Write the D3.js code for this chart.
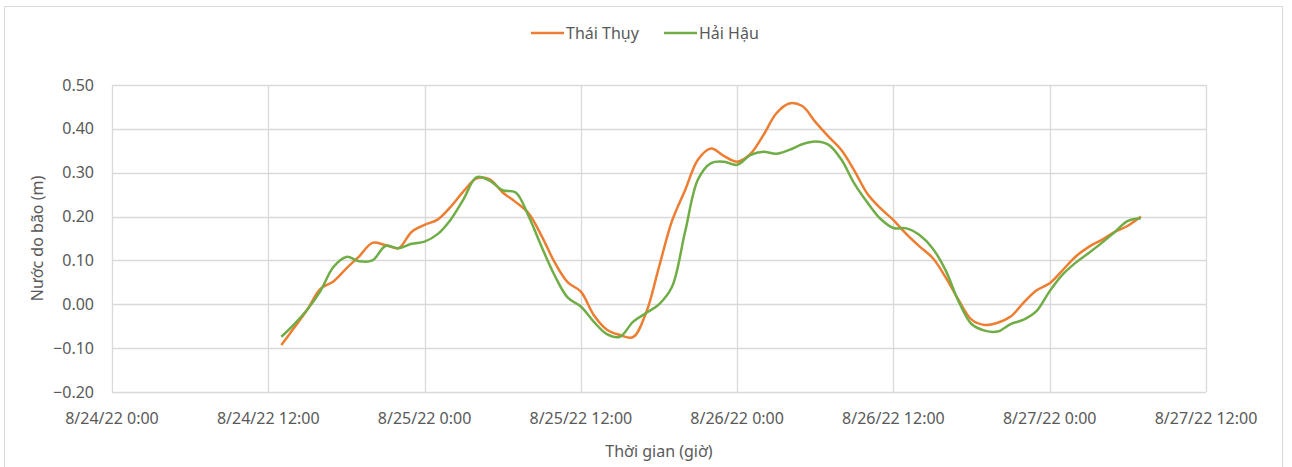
<!DOCTYPE html>
<html>
<head>
<meta charset="utf-8">
<script src="https://cdn.jsdelivr.net/npm/d3@7/dist/d3.min.js"></script>
<style>
  body { margin: 0; background: #fff; }
  text { font-family: "Noto Sans", "Open Sans", sans-serif; fill: #595959; }
</style>
</head>
<body>
<svg id="chart" width="1292" height="467"></svg>
<script>
// hourly readings, hours counted from 8/24/22 0:00
const startHour = 13;
const thaiThuy = [
  -0.093, -0.053, -0.012, 0.035, 0.052, 0.082, 0.11, 0.14, 0.135, 0.128, 0.165, 0.181,
  0.193, 0.222, 0.258, 0.287, 0.285, 0.255, 0.233, 0.207, 0.155, 0.095, 0.05, 0.029,
  -0.025, -0.058, -0.07, -0.075, -0.02, 0.085, 0.19, 0.26, 0.33, 0.355, 0.338, 0.325,
  0.342, 0.385, 0.435, 0.458, 0.452, 0.416, 0.383, 0.352, 0.305, 0.252, 0.219, 0.192,
  0.16, 0.132, 0.106, 0.062, 0.01, -0.035, -0.047, -0.042, -0.028, 0.004, 0.032, 0.048,
  0.078, 0.109, 0.131, 0.147, 0.165, 0.179, 0.2
];
const haiHau = [
  -0.074, -0.045, -0.012, 0.03, 0.085, 0.108, 0.098, 0.1, 0.133, 0.128, 0.138, 0.143,
  0.16, 0.193, 0.24, 0.29, 0.282, 0.26, 0.255, 0.2, 0.13, 0.065, 0.015, -0.005,
  -0.04, -0.068, -0.074, -0.04, -0.02, 0.0, 0.04, 0.165, 0.285, 0.322, 0.325, 0.318,
  0.34, 0.348, 0.343, 0.352, 0.365, 0.371, 0.364, 0.33, 0.275, 0.232, 0.195, 0.174,
  0.173, 0.158, 0.128, 0.078, 0.007, -0.045, -0.06, -0.062, -0.045, -0.035, -0.015, 0.03,
  0.068, 0.095, 0.117, 0.14, 0.165, 0.19, 0.196
];
const seriesNames = ["Thái Thụy", "Hải Hậu"];
const seriesColors = ["#ED7D31", "#70AD47"];
const yTicks = [-0.2, -0.1, 0, 0.1, 0.2, 0.3, 0.4, 0.5];
const xTickHours = [0, 12, 24, 36, 48, 60, 72, 84];

const t0 = new Date(2022, 7, 24, 0, 0);
const hourToDate = h => new Date(t0.getTime() + h * 3600 * 1000);

const svg = d3.select("#chart");
const margin = { left: 112, right: 86, top: 85, bottom: 75 };
const W = 1292, H = 467;

// outer chart border
svg.append("rect")
  .attr("x", 4.5).attr("y", 6.5)
  .attr("width", 1278).attr("height", 480)
  .attr("fill", "none").attr("stroke", "#d9d9d9");

const x = d3.scaleTime()
  .domain([hourToDate(0), hourToDate(84)])
  .range([margin.left, W - margin.right]);
const y = d3.scaleLinear()
  .domain([-0.2, 0.5])
  .range([H - margin.bottom, margin.top]);

// gridlines
svg.append("g")
  .selectAll("line.h")
  .data(yTicks).enter()
  .append("line")
    .attr("x1", x.range()[0]).attr("x2", x.range()[1])
    .attr("y1", d => Math.round(y(d)) + 0.5).attr("y2", d => Math.round(y(d)) + 0.5)
    .attr("stroke", "#d9d9d9").attr("stroke-width", 1.3);

svg.append("g")
  .selectAll("line.v")
  .data(xTickHours).enter()
  .append("line")
    .attr("x1", d => Math.round(x(hourToDate(d))) + 0.5)
    .attr("x2", d => Math.round(x(hourToDate(d))) + 0.5)
    .attr("y1", y.range()[0]).attr("y2", y.range()[1])
    .attr("stroke", "#d9d9d9").attr("stroke-width", 1.3);

// y tick labels
svg.append("g")
  .selectAll("text")
  .data(yTicks).enter()
  .append("text")
    .attr("x", 94)
    .attr("y", d => y(d))
    .attr("dy", "0.35em")
    .attr("text-anchor", "end")
    .style("font-size", "16px")
    .text(d => d3.format(".2f")(d));

// x tick labels
const fmt = d => `${d.getMonth() + 1}/${d.getDate()}/${String(d.getFullYear()).slice(2)} ${d.getHours()}:00`;
svg.append("g")
  .selectAll("text")
  .data(xTickHours).enter()
  .append("text")
    .attr("x", d => x(hourToDate(d)))
    .attr("y", 424)
    .attr("text-anchor", "middle")
    .style("font-size", "16px")
    .text(d => fmt(hourToDate(d)));

// axis titles
svg.append("text")
  .attr("x", (x.range()[0] + x.range()[1]) / 2)
  .attr("y", 457)
  .attr("text-anchor", "middle")
  .style("font-size", "16px")
  .text("Thời gian (giờ)");

svg.append("text")
  .attr("transform", `translate(43,${(y.range()[0] + y.range()[1]) / 2}) rotate(-90)`)
  .attr("text-anchor", "middle")
  .style("font-size", "16px")
  .text("Nước do bão (m)");

// series lines
const line = d3.line()
  .x((d, i) => x(hourToDate(startHour + i)))
  .y(d => y(d))
  .curve(d3.curveCatmullRom.alpha(0.5));

[thaiThuy, haiHau].forEach((vals, k) => {
  svg.append("path")
    .datum(vals)
    .attr("fill", "none")
    .attr("stroke", seriesColors[k])
    .attr("stroke-width", 2.5)
    .attr("stroke-linejoin", "round")
    .attr("d", line);
});

// legend
const legendX = [531, 664];
const legend = svg.append("g");
seriesNames.forEach((name, k) => {
  legend.append("line")
    .attr("x1", legendX[k]).attr("x2", legendX[k] + 33)
    .attr("y1", 33).attr("y2", 33)
    .attr("stroke", seriesColors[k]).attr("stroke-width", 2.5);
  legend.append("text")
    .attr("x", legendX[k] + 35)
    .attr("y", 33)
    .attr("dy", "0.35em")
    .style("font-size", "16px")
    .text(name);
});
</script>
</body>
</html>
